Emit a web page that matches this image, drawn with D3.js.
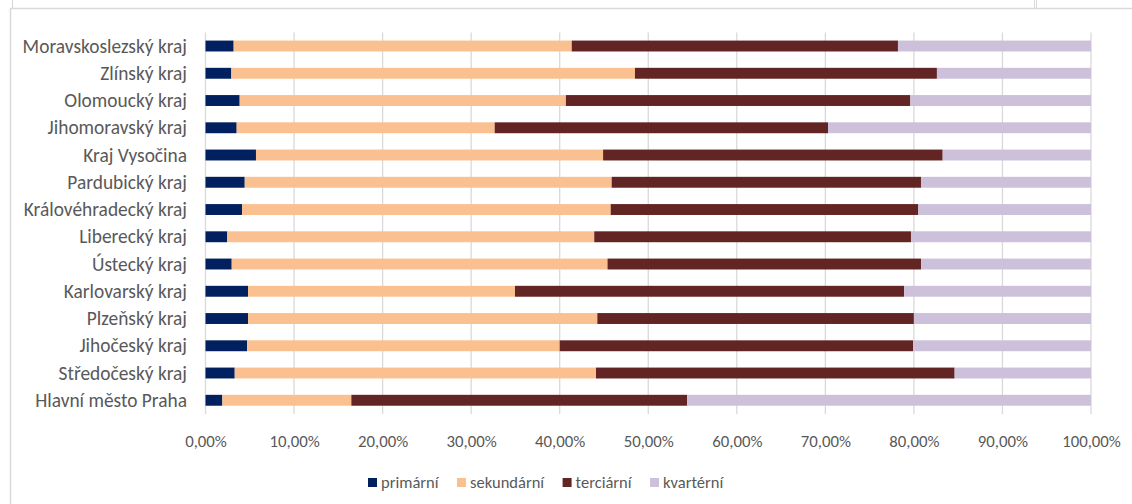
<!DOCTYPE html>
<html>
<head>
<meta charset="utf-8">
<script src="https://cdn.jsdelivr.net/npm/d3@7"></script>
<style>
html,body{margin:0;padding:0;background:#fff;}
svg{display:block;}
text{font-family:"Carlito","Liberation Sans",Arial,sans-serif;fill:#595959;}
</style>
</head>
<body>
<svg id="chart" width="1132" height="504"></svg>
<script>
// ---- data (top-to-bottom order as displayed) ----
const categories = ["Moravskoslezský kraj","Zlínský kraj","Olomoucký kraj","Jihomoravský kraj","Kraj Vysočina","Pardubický kraj","Královéhradecký kraj","Liberecký kraj","Ústecký kraj","Karlovarský kraj","Plzeňský kraj","Jihočeský kraj","Středočeský kraj","Hlavní město Praha"];
const seriesNames = ["primární","sekundární","terciární","kvartérní"];
const primarni   = [3.18, 2.92, 3.86, 3.52, 5.70, 4.43, 4.12, 2.46, 2.96, 4.80, 4.80, 4.69, 3.30, 1.90];
const sekundarni = [38.18,45.58,36.84,29.14,39.20,41.44,41.64,41.44,42.44,30.15,39.45,35.31,40.80,14.57];
const terciarni  = [36.84,34.10,38.90,37.64,38.35,34.93,34.74,35.77,35.40,43.95,35.75,39.90,40.50,37.93];
const kvarterni  = [21.80,17.40,20.40,29.70,16.75,19.20,19.50,20.33,19.20,21.10,20.00,20.10,15.40,45.60];
const tickValues = [0,10,20,30,40,50,60,70,80,90,100];
const colors = ["#002060","#FAC090","#632523","#CCC0DA"];

// ---- build table ----
const seriesValues = [primarni, sekundarni, terciarni, kvarterni];
const table = categories.map((c,i)=>{
  const row = {cat:c};
  seriesNames.forEach((s,j)=>row[s]=seriesValues[j][i]);
  return row;
});
const stacked = d3.stack().keys(seriesNames)(table);

const svg = d3.select("#chart");
const frame = "#D9D9D9";
const FONT = '"Carlito","Liberation Sans",Arial,sans-serif';

// frame lines (worksheet/chart border)
svg.append("line").attr("x1",10).attr("x2",1132).attr("y1",8.5).attr("y2",8.5).attr("stroke",frame).attr("stroke-width",1.5);
svg.append("line").attr("x1",10.5).attr("x2",10.5).attr("y1",8).attr("y2",504).attr("stroke",frame).attr("stroke-width",1.5);
svg.append("line").attr("x1",12.5).attr("x2",12.5).attr("y1",0).attr("y2",8).attr("stroke",frame).attr("stroke-width",1.2);
svg.append("line").attr("x1",1034.5).attr("x2",1034.5).attr("y1",0).attr("y2",8).attr("stroke",frame).attr("stroke-width",1);
svg.append("line").attr("x1",1036.5).attr("x2",1036.5).attr("y1",0).attr("y2",8).attr("stroke",frame).attr("stroke-width",1);

const x = d3.scaleLinear().domain([0,100]).range([205.5,1091]);
const y = d3.scaleBand().domain(categories).range([32.4,413.9]).paddingInner(0.6).paddingOuter(0.3);

// gridlines
svg.append("g").selectAll("line").data(tickValues).join("line")
  .attr("x1",d=>x(d)).attr("x2",d=>x(d))
  .attr("y1",32.4).attr("y2",413.9)
  .attr("stroke","#D9D9D9").attr("stroke-width",1.3);

// bars
svg.append("g").selectAll("g").data(stacked).join("g")
  .attr("fill",(d,i)=>colors[i])
  .selectAll("rect").data(d=>d).join("rect")
  .attr("x",d=>x(d[0]))
  .attr("width",d=>x(d[1])-x(d[0]))
  .attr("y",d=>y(d.data.cat))
  .attr("height",y.bandwidth());

// category axis labels
const yAxis = d3.axisLeft(y).tickSize(0).tickPadding(0);
const gy = svg.append("g").attr("transform","translate(187,0)").call(yAxis);
gy.select(".domain").remove();
gy.selectAll("text").attr("font-size",19.4).attr("fill","#595959")
  .attr("font-family",FONT)
  .attr("dy",null)
  .attr("y",6.5);

// value axis labels
const fmt = d=>d3.format(".2f")(d).replace(".",",")+"%";
const xAxis = d3.axisBottom(x).tickValues(tickValues).tickFormat(fmt).tickSize(0).tickPadding(0);
const gx = svg.append("g").call(xAxis);
gx.select(".domain").remove();
gx.selectAll("text").attr("font-size",16.8).attr("fill","#595959")
  .attr("font-family",FONT)
  .attr("dy",null).attr("y",446.5);

// legend
const legend = svg.append("g");
let lx = 368;
seriesNames.forEach((s,i)=>{
  const g = legend.append("g");
  g.append("rect").attr("x",lx).attr("y",478).attr("width",9).attr("height",9).attr("fill",colors[i]);
  const t = g.append("text").attr("x",lx+13).attr("y",488).attr("font-size",16.5).text(s);
  lx += 13 + t.node().getComputedTextLength() + 18.5;
});
</script>
</body>
</html>
